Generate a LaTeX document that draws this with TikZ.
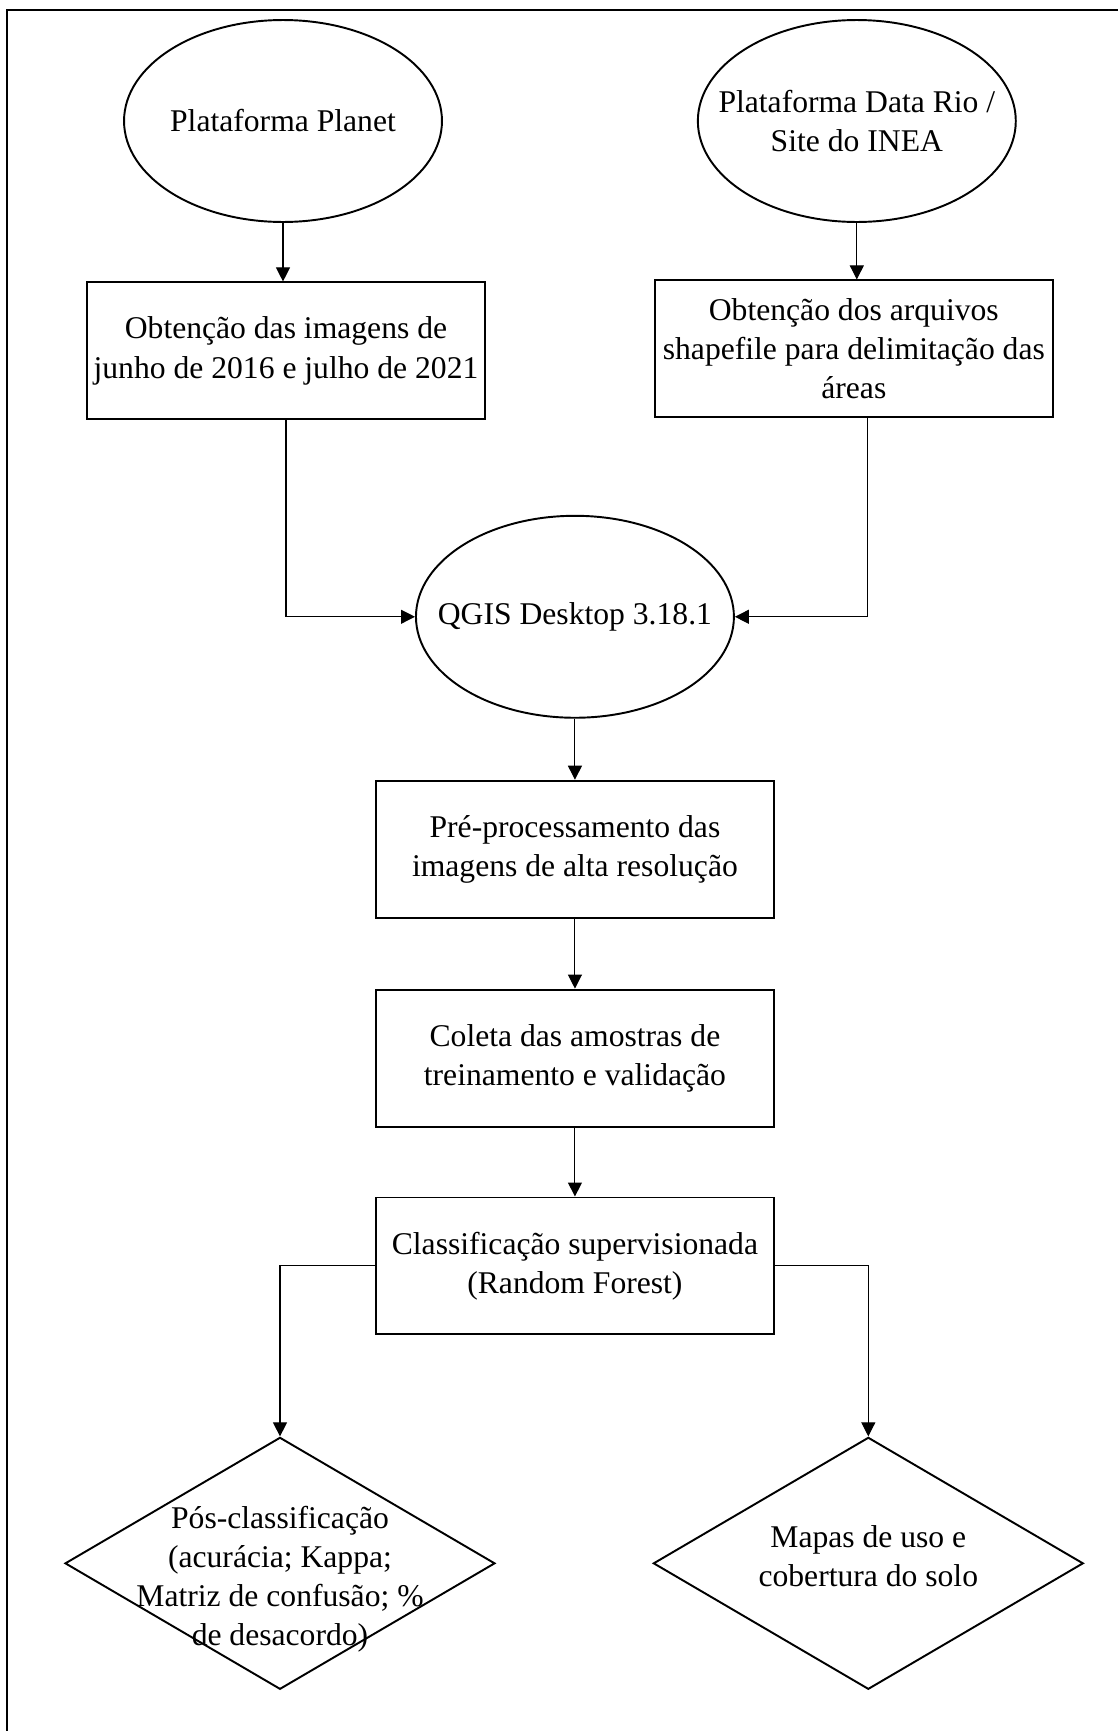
\documentclass[tikz,border=0pt]{standalone}
\usepackage{fontspec}
\setmainfont{Liberation Serif}
\usetikzlibrary{positioning,shapes.geometric,arrows.meta}

\tikzset{
  term/.style={ellipse, draw, line width=1.1pt, minimum width=6.36cm, minimum height=4.04cm, inner sep=0pt},
  proc/.style={rectangle, draw, line width=1.1pt, minimum width=7.96cm, minimum height=2.74cm, align=center, inner sep=2pt},
  decis/.style={diamond, draw, line width=1.1pt, minimum width=8.6cm, minimum height=5.04cm, inner sep=0pt},
  flow/.style={line width=0.6pt, -{Triangle[length=0.28cm,width=0.28cm]}},
}

\begin{document}
\begin{tikzpicture}[x=0.02cm, y=-0.02cm, font=\fontsize{18pt}{22.2pt}\selectfont]

  \useasboundingbox (0,0) rectangle (1118,1731);
  \draw [line width=1.7pt] (7,1731) -- (7,10) -- (1118,10);

  \node (planet) [term, label={[align=center]center:Plataforma Planet}] at (283,121) {};
  \node (datario) [term, right=5.08cm of planet, label={[align=center]center:Plataforma Data Rio /\\Site do INEA}] {};
  \node (imgs) [proc, below=1.17cm of planet, xshift=0.06cm] {Obtenção das imagens de\\junho de 2016 e julho de 2021};
  \node (shp) [proc, below=1.13cm of datario, xshift=-0.06cm] {Obtenção dos arquivos\\shapefile para delimitação das\\áreas};
  \node (qgis) [term, below=1.89cm of imgs, xshift=5.78cm, label={[align=center]center:QGIS Desktop 3.18.1}] {};
  \node (prep) [proc, below=1.22cm of qgis] {Pré-processamento das\\imagens de alta resolução};
  \node (coleta) [proc, below=1.4cm of prep] {Coleta das amostras de\\treinamento e validação};
  \node (classif) [proc, below=1.38cm of coleta] {Classificação supervisionada\\(Random Forest)};
  \node (pos) [decis, below=2.02cm of classif, xshift=-5.9cm, label={[align=center, yshift=-0.32cm]center:Pós-classificação\\(acurácia; Kappa;\\Matriz de confusão; \%\\de desacordo)}] {};
  \node (mapas) [decis, right=3.13cm of pos, label={[align=center, yshift=0.14cm]center:Mapas de uso e\\cobertura do solo}] {};

  \draw [flow] (planet.south) -- (planet.south |- imgs.north);
  \draw [flow] (datario.south) -- (datario.south |- shp.north);
  \draw [flow] (imgs.south) |- (qgis.west);
  \draw [flow] ([xshift=0.28cm]shp.south) |- (qgis.east);
  \draw [flow] (qgis) -- (prep);
  \draw [flow] (prep) -- (coleta);
  \draw [flow] (coleta) -- (classif);
  \draw [flow] (classif.west) -| (pos.north);
  \draw [flow] (classif.east) -| (mapas.north);

\end{tikzpicture}
\end{document}
